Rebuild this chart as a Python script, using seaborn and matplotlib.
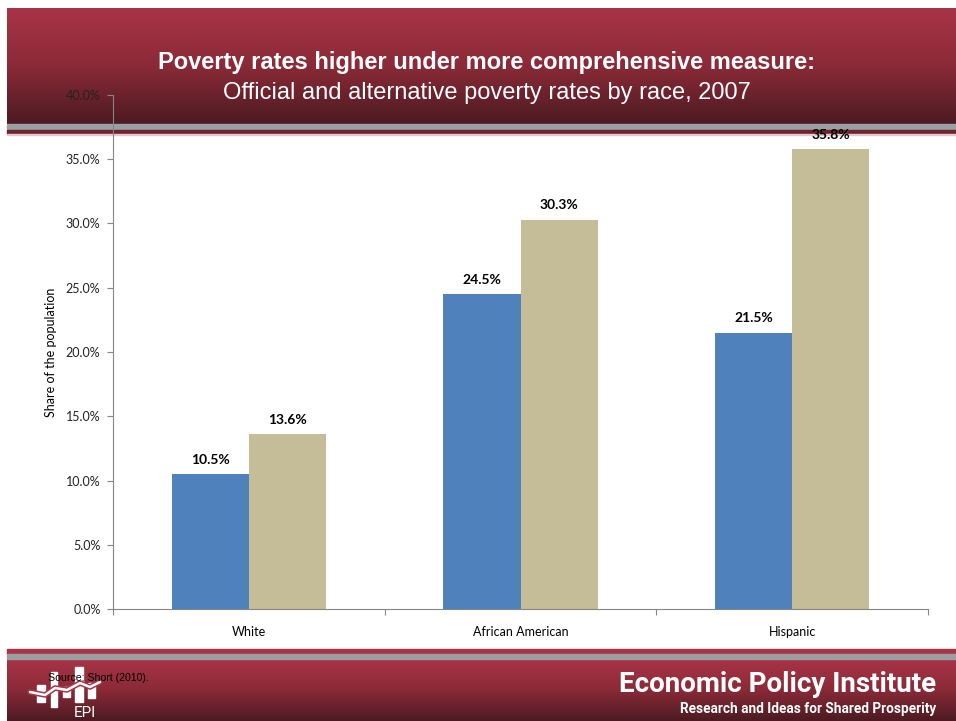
import numpy as np
import pandas as pd
import matplotlib
matplotlib.use("Agg")
import matplotlib.pyplot as plt
from matplotlib.colors import LinearSegmentedColormap
from matplotlib.patches import Rectangle
from matplotlib.lines import Line2D
import seaborn as sns

# ---- data ----
races = ["White", "African American", "Hispanic"]
official = [10.5, 24.5, 21.5]
alternative = [13.6, 30.3, 35.8]
measures = ["Official", "Alternative"]
yticks = [0, 5, 10, 15, 20, 25, 30, 35, 40]

title = "Poverty rates higher under more comprehensive measure:"
subtitle = "Official and alternative poverty rates by race, 2007"
source = "Source: Short (2010)."

df = pd.DataFrame({
    "race": races * 2,
    "rate": official + alternative,
    "measure": [measures[0]] * 3 + [measures[1]] * 3,
})

sns.set_theme(style="white")
plt.rcParams["font.family"] = ["Lato", "DejaVu Sans"]

W, H = 956, 721
fig = plt.figure(figsize=(W / 100, H / 100), dpi=100)
fig.patch.set_facecolor("white")

# ---- background banners (pixel coordinates, origin top-left) ----
bg = fig.add_axes([0, 0, 1, 1], zorder=0)
bg.set_xlim(0, W)
bg.set_ylim(H, 0)
bg.axis("off")

banner = LinearSegmentedColormap.from_list("banner", ["#a83446", "#8a2a38", "#4c1b22"])
grad = np.linspace(0, 1, 256).reshape(-1, 1)
# header
bg.imshow(grad, cmap=banner, aspect="auto", extent=[7, W, 124, 8], zorder=1)
bg.add_patch(Rectangle((7, 124), W, 6, color="#9c9fa2", zorder=2))
bg.add_patch(Rectangle((7, 130), W, 4, color="#6e2330", zorder=2))
bg.add_patch(Rectangle((7, 134), W, 1, color="#e6c8cc", zorder=2))
# footer
bg.add_patch(Rectangle((7, 649), W, 5, color="#a83446", zorder=2))
bg.add_patch(Rectangle((7, 654), W, 5, color="#9c9fa2", zorder=2))
bg.imshow(grad, cmap=banner, aspect="auto", extent=[7, W, H, 659], zorder=1)

# EPI logo
for x0, y0, x1, y1 in [(37, 685, 45, 702), (51, 672, 57, 707), (63, 687, 70, 697),
                       (75, 667, 83, 702), (88, 683, 95, 698)]:
    bg.add_patch(Rectangle((x0, y0), x1 - x0, y1 - y0, color="white", zorder=3))
lx = [30, 45, 55, 67, 80, 90, 100]
ly = [692, 695, 688, 690, 683, 687, 682]
bg.add_line(Line2D(lx, ly, color="#a83446", lw=4, zorder=4))
bg.add_line(Line2D(lx, ly, color="white", lw=1.8, zorder=5))
bg.text(85, 713, "EPI", color="white", fontsize=11, ha="center", va="center",
        family=["Roboto", "DejaVu Sans"], zorder=5)

bg.text(48, 678, source, color="black", fontsize=7.6, ha="left", va="center",
        family=["Liberation Sans", "DejaVu Sans"], zorder=6)
bg.text(936, 685, "Economic Policy Institute", color="white", fontsize=20, fontweight="bold",
        ha="right", va="center", family=["Roboto", "DejaVu Sans"], zorder=5)
bg.text(936, 709, "Research and Ideas for Shared Prosperity", color="white", fontsize=9.8,
        fontweight="bold", ha="right", va="center",
        family=["Roboto", "DejaVu Sans"], zorder=5)

bg.text(487, 63, title, color="white", fontsize=17, fontweight="bold", ha="center",
        va="center", family=["Liberation Sans", "DejaVu Sans"], zorder=5)
bg.text(487, 93, subtitle, color="white", fontsize=17, ha="center", va="center",
        family=["Liberation Sans", "DejaVu Sans"], zorder=5)

# ---- chart ----
ax = fig.add_axes([113 / W, 1 - 609 / H, (928 - 113) / W, (609 - 95) / H], zorder=2)
ax.patch.set_alpha(0)
sns.barplot(data=df, x="race", y="rate", hue="measure", hue_order=measures,
            palette=["#4f81bd", "#c4bd97"], width=0.567, gap=0, saturation=1,
            linewidth=0, legend=False, ax=ax, errorbar=None)

for bars in ax.containers:
    for bar in bars:
        v = bar.get_height()
        ax.annotate(f"{v:.1f}%", (bar.get_x() + bar.get_width() / 2, v),
                    xytext=(0, 6), textcoords="offset points", ha="center", va="bottom",
                    fontsize=10, fontweight="bold", color="black")

ax.set_ylim(0, 40)
ax.set_xlim(-0.5, 2.5)
ax.set_yticks(yticks)
ax.set_yticklabels([f"{t:.1f}%" for t in yticks], fontsize=9, color="#222222")
ax.set_xticks(range(3))
ax.set_xticklabels(races, fontsize=9, color="black")
ax.set_xticks([-0.5, 0.5, 1.5, 2.5], minor=True)
ax.tick_params(axis="x", which="major", length=0, pad=12)
ax.tick_params(axis="x", which="minor", length=4, width=0.8, color="#868686", bottom=True)
ax.tick_params(axis="y", length=4, width=0.8, color="#868686", left=True, pad=5)
ax.set_xlabel("")
ax.set_ylabel("Share of the population", fontsize=9, color="black", labelpad=6)

for s in ["top", "right"]:
    ax.spines[s].set_visible(False)
for s in ["left", "bottom"]:
    ax.spines[s].set_color("#868686")
    ax.spines[s].set_linewidth(0.8)

fig.savefig("out.png", dpi=100)
